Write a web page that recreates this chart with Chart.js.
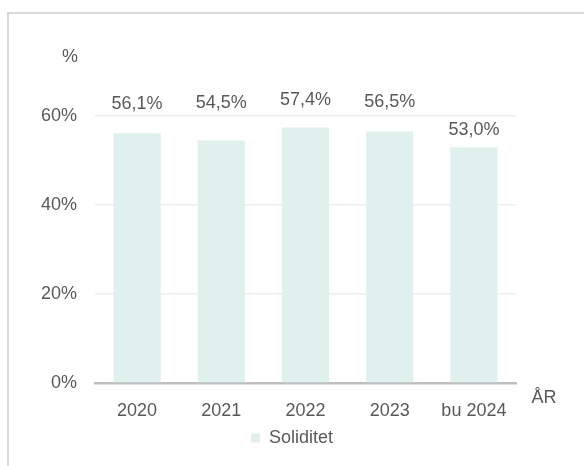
<!DOCTYPE html>
<html>
<head>
<meta charset="utf-8">
<script src="https://cdn.jsdelivr.net/npm/chart.js@4/dist/chart.umd.min.js"></script>
<style>
  html, body { margin: 0; padding: 0; background: #fff; }
  #wrap { position: relative; width: 584px; height: 466px; overflow: hidden; }
  #frame { position: absolute; left: 7px; top: 12px; width: 640px; height: 520px; border: 2px solid #d9d9d9; }
  #chart { position: absolute; left: 0; top: 0; }
</style>
</head>
<body>
<div id="wrap">
  <div id="frame"></div>
  <canvas id="chart" width="584" height="466"></canvas>
</div>
<script>
// Data
const years = ["2020", "2021", "2022", "2023", "bu 2024"];
const soliditet = [56.1, 54.5, 57.4, 56.5, 53.0];
const yTicks = [0, 20, 40, 60];

// hvor høyt over stolpen verdien står (slik som i originalen)
const labelLift = [29, 37, 28, 30, 17];

const textColor = "#595959";
const fontName = "'Liberation Sans', Arial, sans-serif";
const fontSize = 18;

const fmt = v => v.toFixed(1).replace(".", ",") + "%";

// verdietiketter + aksetitler
const extraText = {
  id: "extraText",
  afterDatasetsDraw(chart) {
    const ctx = chart.ctx;
    const area = chart.chartArea;
    ctx.save();
    ctx.fillStyle = textColor;
    ctx.font = fontSize + "px " + fontName;
    ctx.textAlign = "center";
    ctx.textBaseline = "middle";
    chart.getDatasetMeta(0).data.forEach((bar, i) => {
      ctx.fillText(fmt(soliditet[i]), bar.x, bar.y - labelLift[i]);
    });
    ctx.fillText("%", 70, 57);
    ctx.fillText("ÅR", area.right + 28, area.bottom + 15);
    ctx.restore();
  }
};

new Chart(document.getElementById("chart"), {
  type: "bar",
  data: {
    labels: years,
    datasets: [{
      label: "Soliditet",
      data: soliditet,
      backgroundColor: "#e0f0ec",
      barPercentage: 0.56,
      categoryPercentage: 1
    }]
  },
  options: {
    responsive: false,
    animation: false,
    layout: {
      padding: { left: 0, right: 0, top: 116, bottom: 9 }
    },
    scales: {
      x: {
        afterFit(scale) { scale.height = 38; },
        grid: { display: false, drawTicks: false },
        border: { color: "#bfbfbf", width: 2.5 },
        ticks: {
          color: textColor,
          font: { size: fontSize, family: fontName },
          padding: 17,
          maxRotation: 0
        }
      },
      y: {
        min: 0,
        max: 60,
        afterFit(scale) { scale.width = 95; },
        afterBuildTicks(scale) { scale.ticks = yTicks.map(v => ({ value: v })); },
        grid: { color: "#eeeeee", lineWidth: 1.5, drawTicks: false },
        border: { display: false },
        ticks: {
          color: textColor,
          font: { size: fontSize, family: fontName },
          padding: 18,
          callback: v => v + "%"
        }
      },
      // tom akse til høyre, gir plass til "ÅR"
      yRight: {
        position: "right",
        min: 0,
        max: 60,
        afterFit(scale) { scale.width = 68; },
        grid: { display: false, drawTicks: false },
        border: { display: false },
        ticks: { display: false }
      }
    },
    plugins: {
      legend: {
        display: true,
        position: "bottom",
        labels: {
          color: textColor,
          font: { size: fontSize, family: fontName },
          boxWidth: 9,
          boxHeight: 9,
          padding: 8
        }
      },
      tooltip: { enabled: false }
    }
  },
  plugins: [extraText]
});
</script>
</body>
</html>
